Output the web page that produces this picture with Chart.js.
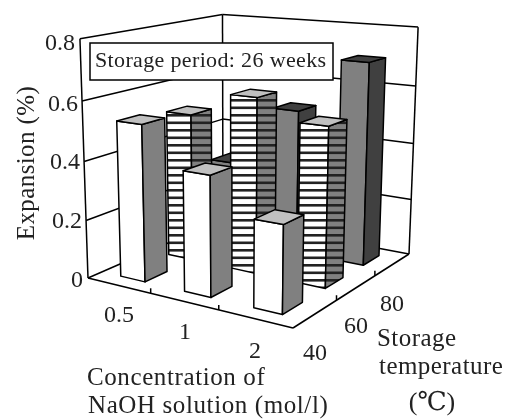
<!DOCTYPE html>
<html>
<head>
<meta charset="utf-8">
<style>
  html, body { margin: 0; padding: 0; background: #fff; }
  canvas { display: block; }
</style>
<script src="https://cdn.jsdelivr.net/npm/chart.js@4/dist/chart.umd.js"></script>
</head>
<body>
<canvas id="chart" width="511" height="420"></canvas>
<script>
// Chart data
const concentrations = ['0.5', '1', '2'];
const temperatures = ['40', '60', '80'];
const expansion40 = [0.53, 0.40, 0.285];
const expansion60 = [0.515, 0.60, 0.535];
const expansion80 = [0.29, 0.51, 0.70];
const expansionTicks = [0, 0.2, 0.4, 0.6, 0.8];
const expansionLabels = ['0', '0.2', '0.4', '0.6', '0.8'];

const FONT = '"Liberation Serif", "DejaVu Serif", serif';

// Floor of the plot box in the picture, corners [u, w] = (0,0) (1,0) (1,1) (0,1)
const floorQuad = [[88, 278], [293, 328], [409, 254], [223, 219]];
// Verticals meet far below the chart
const verticalVanish = [234, 4614];
const verticalLift = -0.0523;

function makeFloor(q) {
    const [[x0, y0], [x1, y1], [x2, y2], [x3, y3]] = q;
    const sx = x0 - x1 + x2 - x3, sy = y0 - y1 + y2 - y3;
    const dx1 = x1 - x2, dx2 = x3 - x2, dy1 = y1 - y2, dy2 = y3 - y2;
    const den = dx1 * dy2 - dx2 * dy1;
    const g = (sx * dy2 - dx2 * sy) / den;
    const h = (dx1 * sy - sx * dy1) / den;
    const a = x1 - x0 + g * x1, b = x3 - x0 + h * x3;
    const d = y1 - y0 + g * y1, e = y3 - y0 + h * y3;
    return (u, w) => [a * u + b * w + x0, d * u + e * w + y0, g * u + h * w + 1];
}
const floorAt = makeFloor(floorQuad);

// u, v, w are 0..1 along the concentration, expansion and temperature scales
function project(u, v, w) {
    const f = floorAt(u, w);
    const t = v * verticalLift;
    const k = f[2] + t;
    return [(f[0] + t * verticalVanish[0]) / k, (f[1] + t * verticalVanish[1]) / k];
}
const uOf = (s, value) => (s.getPixelForValue(value) - s.left) / s.width;
const vOf = (s, value) => (s.bottom - s.getPixelForValue(value)) / s.height;

function polygon(ctx, pts, fill) {
    ctx.beginPath();
    pts.forEach((p, i) => (i ? ctx.lineTo(p[0], p[1]) : ctx.moveTo(p[0], p[1])));
    ctx.closePath();
    ctx.fillStyle = fill;
    ctx.fill();
    ctx.stroke();
}

function stripes(ctx, base, band) {
    const c = document.createElement('canvas');
    c.width = 1;
    c.height = 15;
    const g = c.getContext('2d');
    g.fillStyle = base;
    g.fillRect(0, 0, 1, 15);
    g.fillStyle = band;
    g.fillRect(0, 1.5, 1, 2.6);
    g.fillRect(0, 9, 1, 2.6);
    return ctx.createPattern(c, 'repeat');
}

// Bar controller that draws each bar as a box standing on the floor
class Bar3dController extends Chart.BarController {
    draw() {
        const { ctx, scales } = this.chart;
        const ds = this.getDataset();
        const wMid = uOf(scales.z, this.index);
        const halfU = ds.barDepthU / 2, halfW = ds.barDepthW / 2;
        const faces = ds.faces(ctx);
        ctx.save();
        ctx.strokeStyle = '#000';
        ctx.lineWidth = 1.5;
        ctx.lineJoin = 'round';
        this.getMeta().data.forEach((bar, i) => {
            const uMid = uOf(scales.x, i);
            const v = vOf(scales.y, this.getParsed(i).y);
            const u0 = uMid - halfU, u1 = uMid + halfU, w0 = wMid - halfW, w1 = wMid + halfW;
            polygon(ctx, [project(u0, 0, w0), project(u1, 0, w0), project(u1, v, w0), project(u0, v, w0)], faces.front);
            polygon(ctx, [project(u1, 0, w0), project(u1, 0, w1), project(u1, v, w1), project(u1, v, w0)], faces.side);
            polygon(ctx, [project(u0, v, w0), project(u1, v, w0), project(u1, v, w1), project(u0, v, w1)], faces.top);
        });
        ctx.restore();
    }
}
Bar3dController.id = 'bar3d';
Bar3dController.defaults = Chart.BarController.defaults;
Bar3dController.overrides = Chart.BarController.overrides;
Chart.register(Bar3dController);

function seg(ctx, a, b) {
    ctx.beginPath();
    ctx.moveTo(a[0], a[1]);
    ctx.lineTo(b[0], b[1]);
    ctx.stroke();
}

function label(ctx, text, x, y, font, spacing) {
    ctx.font = font + ' ' + FONT;
    ctx.letterSpacing = spacing + 'px';
    ctx.fillText(text, x, y);
}

// Walls, floor and ticks behind the bars, all text on top
const boxPlugin = {
    id: 'box',
    beforeDatasetsDraw(chart) {
        const { ctx, scales } = chart;
        ctx.save();
        ctx.strokeStyle = '#000';
        ctx.lineWidth = 1.5;
        seg(ctx, project(0, 0, 0), project(0, 1, 0));
        seg(ctx, project(0, 0, 1), project(0, 1, 1));
        seg(ctx, project(1, 0, 1), project(1, 1, 1));
        expansionTicks.forEach(t => {
            const v = vOf(scales.y, t);
            seg(ctx, project(0, v, 0), project(0, v, 1));
            seg(ctx, project(0, v, 1), project(1, v, 1));
        });
        seg(ctx, project(0, 0, 0), project(1, 0, 0));
        seg(ctx, project(1, 0, 0), project(1, 0, 1));
        // tick marks between the categories
        [0.5, 1.5].forEach(pos => {
            const u = uOf(scales.x, pos), w = uOf(scales.z, pos);
            const a = project(u, 0, 0);
            seg(ctx, a, [a[0], a[1] - 5]);
            const b = project(1, 0, w);
            seg(ctx, b, [b[0], b[1] - 5]);
        });
        ctx.restore();
    },
    afterDatasetsDraw(chart) {
        const { ctx } = chart;
        ctx.save();
        ctx.fillStyle = '#222';
        ctx.textBaseline = 'middle';

        // tick labels
        ctx.textAlign = 'right';
        expansionLabels.forEach((t, i) => {
            label(ctx, t, [83, 82, 80, 78, 75][i], [281, 222, 163, 105, 44][i], '24px', 0);
        });
        ctx.textAlign = 'center';
        concentrations.forEach((t, i) => label(ctx, t, [119, 185, 255][i], [316, 333, 352][i], '24px', 0));
        temperatures.forEach((t, i) => label(ctx, t, [315, 356, 392][i], [354, 327, 305][i], '24px', 0));

        // legend box
        ctx.lineWidth = 1.5;
        ctx.strokeStyle = '#000';
        ctx.fillStyle = '#fff';
        ctx.fillRect(90, 43, 243, 37);
        ctx.strokeRect(90, 43, 243, 37);
        ctx.fillStyle = '#222';
        ctx.textAlign = 'left';
        label(ctx, 'Storage period: 26 weeks', 95, 61, '22px', 0.35);

        // axis titles
        label(ctx, 'Concentration of', 87, 378, '25px', 0.6);
        label(ctx, 'NaOH solution (mol/l)', 88, 406, '25px', 0.6);
        label(ctx, 'Storage', 377, 339, '25px', 0.45);
        label(ctx, 'temperature', 379, 367, '25px', 0.45);
        ctx.textAlign = 'center';
        label(ctx, '(℃)', 432, 403, '26px', 0);
        ctx.translate(27, 163);
        ctx.rotate(-Math.PI / 2);
        label(ctx, 'Expansion (%)', 0, 0, '25px', 0.4);
        ctx.restore();
    }
};

new Chart(document.getElementById('chart'), {
    type: 'bar3d',
    data: {
        labels: concentrations,
        datasets: [
            {
                label: temperatures[0], data: expansion40, barDepthU: 0.13, barDepthW: 0.15,
                faces: () => ({ front: '#fff', side: '#808080', top: '#c0c0c0' })
            },
            {
                label: temperatures[1], data: expansion60, barDepthU: 0.13, barDepthW: 0.15,
                faces: ctx => ({ front: stripes(ctx, '#fff', '#222'), side: stripes(ctx, '#808080', '#222'), top: '#c0c0c0' })
            },
            {
                label: temperatures[2], data: expansion80, barDepthU: 0.13, barDepthW: 0.15,
                faces: () => ({ front: '#808080', side: '#404040', top: '#404040' })
            }
        ]
    },
    options: {
        responsive: false,
        animation: false,
        layout: { padding: 0 },
        plugins: { legend: { display: false }, tooltip: { enabled: false } },
        scales: {
            x: { type: 'category', display: false, offset: true },
            y: { type: 'linear', display: false, min: 0, max: 0.8 },
            z: { type: 'category', axis: 'x', labels: temperatures, display: false, offset: true }
        }
    },
    plugins: [boxPlugin]
});
</script>
</body>
</html>
